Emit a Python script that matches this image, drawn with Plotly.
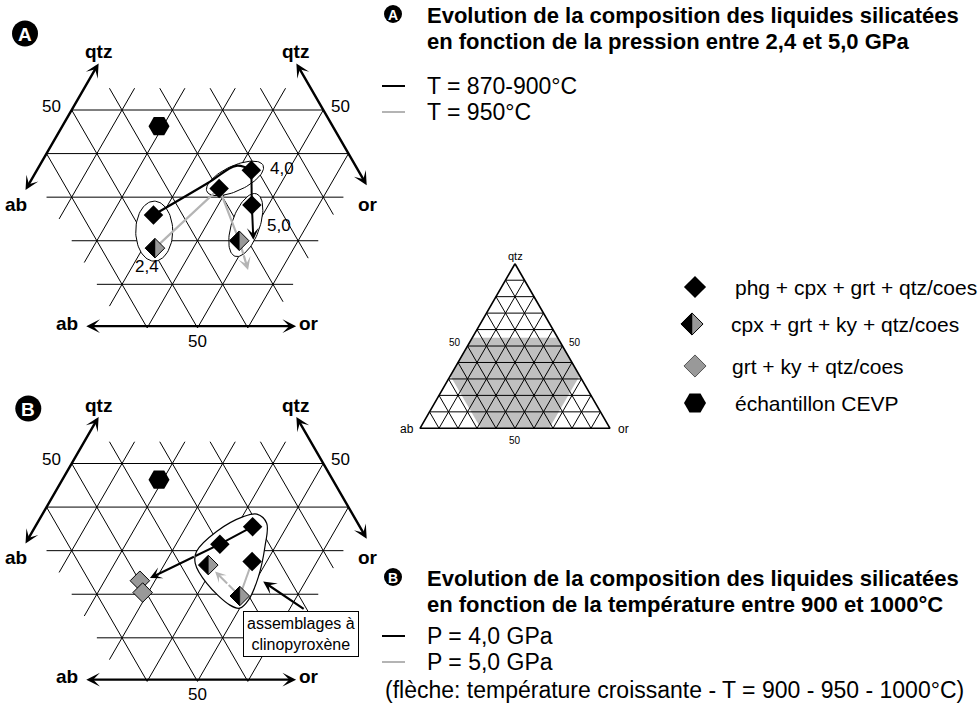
import math
import plotly.graph_objects as go

FONT = "Liberation Sans, Arial, Helvetica, sans-serif"
BLACK = "#000000"
GREY_LINE = "#b4b4b4"
GREY_FILL = "#999999"
SHADE = "#c0c0c0"

# ---------------- data : ternary compositions in %  (qtz, ab, or) ----------------
grid_steps = [10, 20, 30, 40, 50, 60]
qtz_steps = [10, 20, 30, 40, 50]
inset_steps = [10, 20, 30, 40, 50, 60, 70, 80, 90]
zoom_limits = {"qtz": 55, "ab": 65, "or": 64}
inset_shade = [(55, 45, 0), (55, 0, 45), (32, 0, 68), (0, 32, 68), (0, 68, 32), (32, 68, 0)]

cevp = [(46.3, 34.5, 19.2)]

# panel A : pressure series
A_phg = [(25.9, 45.8, 28.3), (32.0, 29.7, 38.3), (36.2, 21.2, 42.6), (28.2, 25.1, 46.7)]
A_cpx = [(18.3, 49.3, 32.4), (20.0, 31.7, 48.3)]
A_T900 = [(25.9, 45.8, 28.3), (33.3, 31.2, 35.5), (37.2, 23.7, 39.1), (36.2, 21.2, 42.6)]
A_T900_down = [(36.2, 21.2, 42.6), (28.2, 25.1, 46.7), (20.2, 28.8, 51.0)]
A_T950 = [(18.3, 49.3, 32.4), (32.0, 29.7, 38.3), (20.0, 31.7, 48.3), (13.3, 33.3, 53.4)]
A_groups_centre = [(22.2, 47.5, 30.3), (34.3, 25.4, 40.3), (23.6, 28.6, 47.8)]
A_groups_label = ["2,4", "4,0", "5,0"]
A_groups_label_pos = [(14.0, 53.1, 32.9), (36.6, 15.0, 48.4), (23.6, 22.0, 54.4)]

# panel B : temperature series
B_phg = [(35.5, 21.3, 43.2), (31.5, 29.8, 38.7), (27.5, 25.4, 47.1)]
B_cpx = [(26.7, 34.5, 38.8), (19.6, 31.8, 48.6)]
B_ky = [(23.1, 49.9, 27.0), (20.4, 50.7, 28.9)]
B_P40 = [(35.5, 21.3, 43.2), (31.5, 29.8, 38.7), (23.7, 47.6, 28.7)]
B_P50_arrow = [(19.6, 31.8, 48.6), (25.2, 33.9, 40.9)]
B_P50_line = [(19.6, 31.8, 48.6), (27.5, 25.4, 47.1)]
B_cpx_field = [(34.4, 29.0, 36.6), (37.8, 22.0, 40.2), (38.4, 19.0, 42.6), (36.3, 18.1, 45.6),
               (30.9, 21.2, 48.0), (24.0, 25.9, 50.1), (18.7, 30.5, 50.8), (16.8, 33.2, 50.0),
               (17.5, 34.8, 47.7), (22.5, 36.9, 40.6), (27.1, 36.9, 36.0), (29.8, 35.3, 34.9),
               (34.4, 29.0, 36.6)]
B_callout_tip = (22.9, 25.5, 51.6)
B_callout_tail = (16.4, 20.4, 63.2)

legend_symbols = ["phg + cpx + grt + qtz/coes", "cpx + grt + ky + qtz/coes",
                  "grt + ky + qtz/coes", "échantillon CEVP"]

# ---------------- layout helpers ----------------
PAN_A = dict(xc=197.5, y0=327.9, k=5.032)
PAN_B = dict(xc=197.5, y0=681.4, k=5.032)
INSET = dict(xc=515.0, y0=428.3, k=1.9)
SQ3 = math.sqrt(3) / 2


def proj(p, pan):
    q, a, o = p
    return pan["xc"] + pan["k"] / 2 * (o - a), pan["y0"] - pan["k"] * SQ3 * q


def projs(pts, pan):
    xy = [proj(p, pan) for p in pts]
    return [x for x, _ in xy], [y for _, y in xy]


def lerp(p1, p2, t):
    return tuple(a + (b - a) * t for a, b in zip(p1, p2))


fig = go.Figure()
annots = []


def add_line(xs, ys, color=BLACK, width=1.0, shape="linear", fill=None, fillcolor=None):
    fig.add_trace(go.Scatter(x=xs, y=ys, mode="lines", hoverinfo="skip",
                             line=dict(color=color, width=width, shape=shape),
                             fill=fill, fillcolor=fillcolor, showlegend=False))


def text(x, y, s, size, bold=False, xanchor="center", color=BLACK):
    annots.append(dict(x=x, y=y, xref="x", yref="y", text=f"<b>{s}</b>" if bold else s,
                       showarrow=False, xanchor=xanchor, yanchor="middle",
                       font=dict(family=FONT, size=size, color=color)))


def arrow(tail, tip, color=BLACK, width=2.0, size=1.0, both=False):
    annots.append(dict(x=tip[0], y=tip[1], ax=tail[0], ay=tail[1], xref="x", yref="y",
                       axref="x", ayref="y", text="", showarrow=True, arrowhead=3,
                       arrowsize=size, arrowwidth=width, arrowcolor=color,
                       startarrowhead=3, startarrowsize=size,
                       arrowside="end+start" if both else "end", standoff=0, startstandoff=0))


def zoom_grid(pan):
    xs, ys = [], []
    QM, AM, OM = zoom_limits["qtz"], zoom_limits["ab"], zoom_limits["or"]

    def seg(p1, p2):
        for p in (p1, p2):
            x, y = proj(p, pan)
            xs.append(x); ys.append(y)
        xs.append(None); ys.append(None)

    for q in qtz_steps:
        o1, o2 = max(0, 100 - q - AM), min(OM, 100 - q)
        seg((q, 100 - q - o1, o1), (q, 100 - q - o2, o2))
    for k in grid_steps:
        q1, q2 = max(0, 100 - k - AM), min(QM, 100 - k)
        seg((q1, 100 - q1 - k, k), (q2, 100 - q2 - k, k))
        q1, q2 = max(0, 100 - k - OM), min(QM, 100 - k)
        seg((q1, k, 100 - q1 - k), (q2, k, 100 - q2 - k))
    add_line(xs, ys, BLACK, 1.0)


def ellipse(centre, rx, ry, tilt, pan, n=80):
    cx, cy = proj(centre, pan)
    t = math.radians(tilt)
    xs, ys = [], []
    for i in range(n + 1):
        u = 2 * math.pi * i / n
        ex, ey = rx * math.cos(u), ry * math.sin(u)
        xs.append(cx + ex * math.cos(t) + ey * math.sin(t))
        ys.append(cy - ex * math.sin(t) + ey * math.cos(t))
    add_line(xs, ys, BLACK, 1.0, fill="toself", fillcolor="white")


def markers(pts, pan, symbol, size, color, lw=0.0):
    xs, ys = projs(pts, pan)
    fig.add_trace(go.Scatter(x=xs, y=ys, mode="markers", hoverinfo="skip", showlegend=False,
                             marker=dict(symbol=symbol, size=size, color=color,
                                         line=dict(color=BLACK, width=lw))))


def half_diamonds(xy, size):
    rd = 0.65 * size
    xs, ys = [], []
    for cx, cy in xy:
        xs += [cx, cx - rd, cx, cx, None]
        ys += [cy - rd, cy, cy + rd, cy - rd, None]
    fig.add_trace(go.Scatter(x=[c for c, _ in xy], y=[c for _, c in xy], mode="markers",
                             hoverinfo="skip", showlegend=False,
                             marker=dict(symbol="diamond", size=size, color=GREY_FILL,
                                         line=dict(color=BLACK, width=1))))
    add_line(xs, ys, BLACK, 0.5, fill="toself", fillcolor=BLACK)


def axes_frame(pan):
    l1, l2 = proj((31.3, 68.7, 0), pan), proj((60.7, 39.3, 0), pan)
    arrow(l1, l2, width=2.4, size=0.95, both=True)
    r1, r2 = proj((32.4, 0, 67.6), pan), proj((60.7, 0, 39.3), pan)
    arrow(r1, r2, width=2.4, size=0.95, both=True)
    b1, b2 = proj((0.4, 72.2, 27.4), pan), proj((0.4, 30.2, 69.4), pan)
    arrow(b1, b2, width=2.4, size=0.95, both=True)
    y0 = pan["y0"]
    text(98.5, y0 - 276.0, "qtz", 19, True)
    text(295.5, y0 - 276.0, "qtz", 19, True)
    text(51.5, y0 - 221.5, "50", 17)
    text(340.5, y0 - 221.5, "50", 17)
    text(16.0, y0 - 123.5, "ab", 19, True)
    text(368.0, y0 - 123.5, "or", 19, True)
    text(66.5, y0 - 4.5, "ab", 19, True)
    text(309.0, y0 - 4.5, "or", 19, True)
    text(197.5, y0 + 13.5, "50", 17)


def badge(x, y, letter, d, fs):
    fig.add_trace(go.Scatter(x=[x], y=[y], mode="markers", hoverinfo="skip", showlegend=False,
                             marker=dict(symbol="circle", size=d, color=BLACK)))
    text(x, y + 0.5, letter, fs, True, color="white")


# ---------------- panel A ----------------
zoom_grid(PAN_A)
axes_frame(PAN_A)
ellipse(A_groups_centre[0], 18.5, 30.0, 0, PAN_A)
ellipse(A_groups_centre[1], 31.0, 12.5, 25, PAN_A)
ellipse(A_groups_centre[2], 33.0, 14.0, 71, PAN_A)
for lab, pos in zip(A_groups_label, A_groups_label_pos):
    x, y = proj(pos, PAN_A)
    text(x, y, lab, 17)

g_end = lerp(A_T950[2], A_T950[3], 0.45)
xs, ys = projs(A_T950[:3] + [g_end], PAN_A)
add_line(xs, ys, GREY_LINE, 2.2)
arrow(proj(g_end, PAN_A), proj(A_T950[3], PAN_A), GREY_LINE, 2.2, 0.95)
xs, ys = projs(A_T900, PAN_A)
add_line(xs, ys, BLACK, 2.2, shape="spline")
xs, ys = projs(A_T900_down[:2], PAN_A)
add_line(xs, ys, BLACK, 2.0)
arrow(proj(A_T900_down[1], PAN_A), proj(A_T900_down[2], PAN_A), BLACK, 2.0, 1.0)

markers(cevp, PAN_A, "hexagon2", 21, BLACK)
markers(A_phg, PAN_A, "diamond", 15, BLACK)
half_diamonds([proj(p, PAN_A) for p in A_cpx], 15)
badge(25, 33.5, "A", 26, 19)

# ---------------- panel B ----------------
zoom_grid(PAN_B)
axes_frame(PAN_B)
xs, ys = projs(B_cpx_field, PAN_B)
add_line(xs, ys, BLACK, 1.2, shape="spline", fill="toself", fillcolor="white")

b_mid = lerp(B_P40[1], B_P40[2], 0.35)
xs, ys = projs(B_P40[:2] + [b_mid], PAN_B)
add_line(xs, ys, BLACK, 2.0)
xs, ys = projs(B_P50_line, PAN_B)
add_line(xs, ys, GREY_LINE, 2.0)
p_mid = lerp(B_P50_arrow[0], B_P50_arrow[1], 0.45)
xs, ys = projs([B_P50_arrow[0], p_mid], PAN_B)
add_line(xs, ys, GREY_LINE, 2.0)

markers(cevp, PAN_B, "hexagon2", 21, BLACK)
markers(B_ky, PAN_B, "diamond", 15, GREY_FILL, 1.0)
markers(B_phg, PAN_B, "diamond", 15, BLACK)
half_diamonds([proj(p, PAN_B) for p in B_cpx], 15)
arrow(proj(b_mid, PAN_B), proj(B_P40[2], PAN_B), BLACK, 2.0, 1.0)
arrow(proj(p_mid, PAN_B), proj(B_P50_arrow[1], PAN_B), GREY_LINE, 2.0, 0.9)
arrow(proj(B_callout_tail, PAN_B), proj(B_callout_tip, PAN_B), BLACK, 2.2, 1.0)
annots.append(dict(x=301.3, y=633.8, xref="x", yref="y", text="assemblages à<br>clinopyroxène",
                   showarrow=False, xanchor="center", yanchor="middle", align="center",
                   bgcolor="white", bordercolor=BLACK, borderwidth=1, borderpad=3,
                   font=dict(family=FONT, size=16, color=BLACK)))
badge(28.3, 408.5, "B", 26, 19)

# ---------------- inset ternary ----------------
xs, ys = projs(inset_shade + [inset_shade[0]], INSET)
add_line(xs, ys, SHADE, 0.1, fill="toself", fillcolor=SHADE)
gx, gy = [], []
for k in inset_steps:
    for p1, p2 in (((k, 100 - k, 0), (k, 0, 100 - k)),
                   ((0, 100 - k, k), (100 - k, 0, k)),
                   ((0, k, 100 - k), (100 - k, k, 0))):
        for p in (p1, p2):
            x, y = proj(p, INSET)
            gx.append(x); gy.append(y)
        gx.append(None); gy.append(None)
add_line(gx, gy, BLACK, 1.0)
xs, ys = projs([(100, 0, 0), (0, 100, 0), (0, 0, 100), (100, 0, 0)], INSET)
add_line(xs, ys, BLACK, 1.6)
text(515, 256, "qtz", 11)
text(407, 428.5, "ab", 12)
text(623, 428.5, "or", 12)
text(455, 342.5, "50", 10)
text(575, 342.5, "50", 10)
text(515, 440.5, "50", 10)

# ---------------- legends (right side) ----------------
TITLE_FS = 22
REG_FS = 23
badge(393, 14, "A", 18, 14)
text(425, 15, "Evolution de la composition des liquides silicatées", TITLE_FS, True, "left")
text(425, 41, "en fonction de la pression entre 2,4 et 5,0 GPa", TITLE_FS, True, "left")
add_line([382, 405], [86, 86], BLACK, 2)
add_line([382, 405], [112, 112], GREY_LINE, 2)
text(425, 86, "T = 870-900°C", REG_FS, False, "left")
text(425, 112, "T = 950°C", REG_FS, False, "left")

badge(393, 577, "B", 18, 14)
text(425, 578, "Evolution de la composition des liquides silicatées", TITLE_FS, True, "left")
text(425, 604, "en fonction de la température entre 900 et 1000°C", TITLE_FS, True, "left")
add_line([382, 405], [636, 636], BLACK, 2)
add_line([382, 405], [662, 662], GREY_LINE, 2)
text(425, 636, "P = 4,0 GPa", REG_FS, False, "left")
text(425, 662, "P = 5,0 GPa", REG_FS, False, "left")
text(383, 690, "(flèche: température croissante - T = 900 - 950 - 1000°C)", REG_FS, False, "left")

leg_y = [287, 324, 366, 403]
fig.add_trace(go.Scatter(x=[695], y=[leg_y[0]], mode="markers", hoverinfo="skip", showlegend=False,
                         marker=dict(symbol="diamond", size=17, color=BLACK)))
half_diamonds([(692, leg_y[1])], 17)
fig.add_trace(go.Scatter(x=[695], y=[leg_y[2]], mode="markers", hoverinfo="skip", showlegend=False,
                         marker=dict(symbol="diamond", size=17, color=GREY_FILL,
                                     line=dict(color="#555555", width=1))))
fig.add_trace(go.Scatter(x=[695], y=[leg_y[3]], mode="markers", hoverinfo="skip", showlegend=False,
                         marker=dict(symbol="hexagon2", size=22, color=BLACK)))
for lab, y, x in zip(legend_symbols, leg_y, [733, 729, 730, 733]):
    text(x, y, lab, 21, False, "left")

fig.update_layout(
    width=980, height=704, margin=dict(l=0, r=0, t=0, b=0),
    paper_bgcolor="white", plot_bgcolor="white", showlegend=False,
    xaxis=dict(range=[0, 980], visible=False, fixedrange=True),
    yaxis=dict(range=[704, 0], visible=False, fixedrange=True),
    annotations=annots,
)
fig.write_html("out.html", config={"displayModeBar": False},
               post_script="document.body.style.margin='0';document.body.style.overflow='hidden';")
